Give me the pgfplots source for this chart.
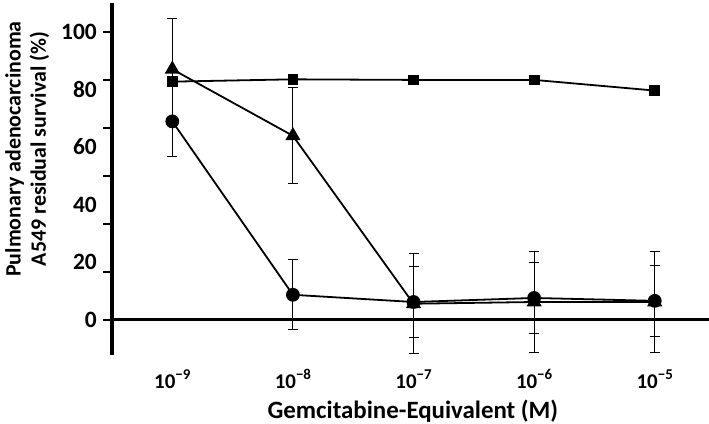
\documentclass[border=0pt]{standalone}
\usepackage{pgfplots}
\pgfplotsset{compat=1.18}
\usetikzlibrary{calc}
\usepackage{fontspec}
\setmainfont{Carlito}
\newcommand{\tl}[1]{10\raisebox{0.42em}{\fontsize{15}{15}\selectfont\char"2212 #1}}
\pgfplotstableread{
x y e
0 68.9 12.2
1 8.7 12.2
2 6.2 12.2
3 7.6 12.3
4 6.6 12.3
}\circdata
\pgfplotstableread{
x y e
0 87.0 17.5
1 63.9 16.7
2 5.6 17.4
3 6.2 17.4
4 6.2 17.4
}\tridata
\pgfplotstableread{
x y e
0 82.7 1.2
1 83.5 0.8
2 83.3 0.8
3 83.3 0.8
4 79.6 0.8
}\sqdata
\begin{document}
\begin{tikzpicture}
\begin{axis}[
  name=ax,
  scale only axis, width=597bp, height=352bp,
  xmin=-0.5, xmax=4.45, ymin=-12.2, ymax=110,
  clip=false,
  axis x line=bottom, x axis line style={draw=none},
  axis y line=left, y axis line style={line width=3.2pt, -},
  xtick={0,1,2,3,4},
  xticklabels={\tl{9},\tl{8},\tl{7},\tl{6},\tl{5}},
  x tick style={draw=none},
  xticklabel style={font=\bfseries\fontsize{21}{23}\selectfont, anchor=base, yshift=-24bp},
  ytick={0,16.6667,33.3333,50,66.6667,83.3333,100}, yticklabels={},
  y tick style={line width=2.4pt, black},
  major tick length=9bp, tick align=outside,
  extra y ticks={0,20,40,60,80,100},
  extra y tick labels={0,20,40,60,80,100},
  extra y tick style={major tick length=0pt, yticklabel style={font=\bfseries\fontsize{23.5}{26}\selectfont, anchor=east, inner sep=0pt, xshift=-15bp}},
  xlabel={Gemcitabine-Equivalent (M)},
  xlabel style={font=\bfseries\fontsize{25}{28}\selectfont, inner sep=0pt, at={(rel axis cs:0.504,-0.179)}, anchor=base},
  ylabel={Pulmonary adenocarcinoma\\A549 residual survival (\%)},
  ylabel style={font=\bfseries\fontsize{22}{25.5}\selectfont, align=center, inner sep=0pt, at={(rel axis cs:-0.1792,0.585)}, anchor=north},
]
\draw[line width=3pt] (axis cs:-0.5,0) -- (axis cs:4.45,0);
\addplot+[black, line width=1.8pt, mark=*, mark size=6bp, mark options={fill=black},
  error bars/.cd, y dir=both, y explicit,
  error bar style={line width=1.1pt, black},
  error mark options={rotate=90, mark size=5bp, line width=1.1pt, black}]
  table[x=x, y=y, y error=e]{\circdata};
\addplot+[black, line width=1.8pt, mark=triangle*, mark size=7bp, mark options={fill=black},
  error bars/.cd, y dir=both, y explicit,
  error bar style={line width=1.1pt, black},
  error mark options={rotate=90, mark size=5bp, line width=1.1pt, black}]
  table[x=x, y=y, y error=e]{\tridata};
\addplot+[black, line width=1.8pt, mark=square*, mark size=4.5bp, mark options={fill=black},
  error bars/.cd, y dir=both, y explicit,
  error bar style={line width=1.1pt, black},
  error mark options={rotate=90, mark size=5bp, line width=1.1pt, black}]
  table[x=x, y=y, y error=e]{\sqdata};
\end{axis}
\pgfresetboundingbox
\path[use as bounding box] ($(ax.south west)+(-112bp,-69bp)$) rectangle ($(ax.north east)+(0,3bp)$);
\end{tikzpicture}
\end{document}
